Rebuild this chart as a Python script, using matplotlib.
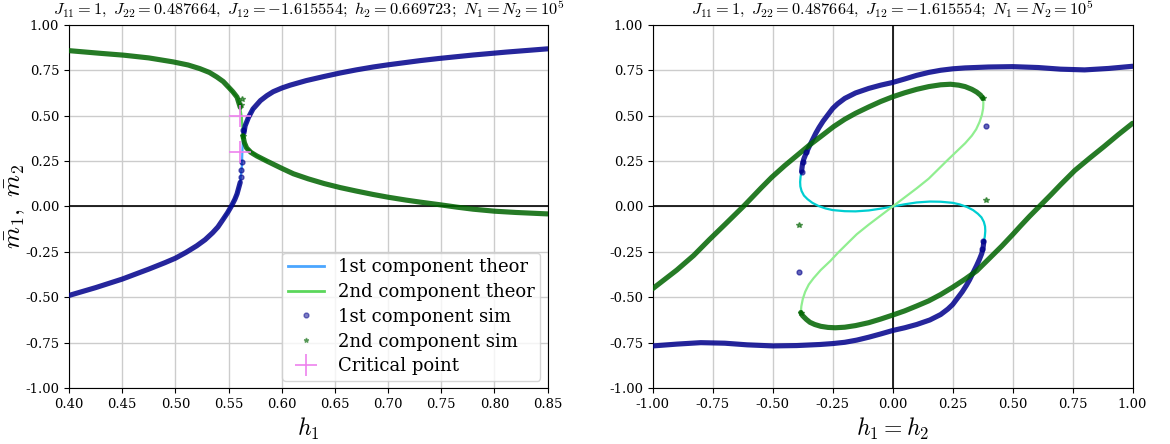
import matplotlib
matplotlib.use("Agg")
import matplotlib.pyplot as plt
from matplotlib.lines import Line2D
from matplotlib.ticker import FormatStrFormatter

plt.rcParams["font.family"] = "DejaVu Serif"
plt.rcParams["mathtext.fontset"] = "cm"

TITLE_L = r"$J_{11}=1,\ J_{22}=0.487664,\ J_{12}=-1.615554;\ h_2=0.669723;\ N_1=N_2=10^5$"
TITLE_R = r"$J_{11}=1,\ J_{22}=0.487664,\ J_{12}=-1.615554;\ N_1=N_2=10^5$"

# ---- left panel: sweep in h1 ----
h_sim1_lo = [0.40, 0.425, 0.45, 0.475, 0.49, 0.50, 0.51, 0.52, 0.528, 0.535, 0.54, 0.545, 0.549, 0.553,
             0.556, 0.558, 0.561]
m_sim1_lo = [-0.49, -0.447, -0.40, -0.345, -0.31, -0.285, -0.253, -0.217, -0.183, -0.145, -0.113, -0.07,
             -0.035, 0.005, 0.04, 0.069, 0.133]
h_sim1_hi = [0.5645, 0.5656, 0.5688, 0.573, 0.58, 0.586, 0.592, 0.60, 0.608, 0.623, 0.64, 0.655, 0.67,
             0.686, 0.70, 0.717, 0.73, 0.748, 0.78, 0.811, 0.85]
m_sim1_hi = [0.405, 0.444, 0.491, 0.537, 0.583, 0.61, 0.632, 0.652, 0.668, 0.693, 0.716, 0.735, 0.752,
             0.768, 0.78, 0.793, 0.803, 0.815, 0.834, 0.85, 0.868]
h_sim2_hi = [0.40, 0.43, 0.4516, 0.475, 0.498, 0.512, 0.523, 0.532, 0.539, 0.545, 0.55, 0.554, 0.558, 0.561]
m_sim2_hi = [0.858, 0.843, 0.833, 0.818, 0.796, 0.779, 0.759, 0.738, 0.713, 0.688, 0.657, 0.632, 0.602, 0.546]
h_sim2_lo = [0.5635, 0.565, 0.567, 0.571, 0.5766, 0.586, 0.60, 0.611, 0.625, 0.64, 0.655, 0.67, 0.686,
             0.70, 0.717, 0.73, 0.748, 0.765, 0.78, 0.80, 0.82, 0.85]
m_sim2_lo = [0.39, 0.35, 0.322, 0.298, 0.278, 0.25, 0.21, 0.18, 0.152, 0.126, 0.104, 0.085, 0.066,
             0.051, 0.035, 0.024, 0.01, -0.004, -0.015, -0.026, -0.033, -0.041]
h_sim1_pts = [0.5615, 0.562, 0.5625, 0.5635]
m_sim1_pts = [0.16, 0.20, 0.245, 0.42]
h_sim2_pts = [0.5615, 0.5625, 0.564]
m_sim2_pts = [0.56, 0.59, 0.39]

h_th1 = [0.545, 0.553, 0.558, 0.561, 0.5625, 0.563, 0.5635, 0.5645, 0.5656, 0.5688, 0.573]
m_th1 = [-0.07, 0.005, 0.069, 0.133, 0.22, 0.30, 0.36, 0.40, 0.444, 0.491, 0.537]
h_th2 = [0.55, 0.558, 0.561, 0.5625, 0.563, 0.5635, 0.564, 0.567, 0.5766, 0.586]
m_th2 = [0.657, 0.602, 0.546, 0.49, 0.44, 0.40, 0.37, 0.322, 0.278, 0.25]

h_crit = [0.561, 0.561]
m_crit = [0.50, 0.30]

# ---- right panel: sweep in h1 = h2 ----
x_sim1_hi = [-0.380, -0.376, -0.371, -0.362, -0.35, -0.335, -0.32, -0.307, -0.29, -0.27, -0.25, -0.23,
             -0.2, -0.155, -0.1, -0.05, 0.0, 0.05, 0.1, 0.15, 0.2, 0.25, 0.302, 0.40, 0.50, 0.607,
             0.70, 0.80, 0.90, 1.0]
y_sim1_hi = [0.193, 0.235, 0.26, 0.29, 0.325, 0.365, 0.405, 0.435, 0.47, 0.505, 0.54, 0.565,
             0.595, 0.625, 0.65, 0.668, 0.683, 0.702, 0.722, 0.738, 0.75, 0.758, 0.763, 0.768, 0.77, 0.765,
             0.756, 0.752, 0.76, 0.772]
x_sim1_lo = [-1.0, -0.9, -0.8, -0.7, -0.607, -0.5, -0.4, -0.302, -0.25, -0.2, -0.15, -0.1, -0.05, 0.0,
             0.05, 0.1, 0.155, 0.2, 0.23, 0.25, 0.27, 0.29, 0.307, 0.32, 0.335, 0.35, 0.362, 0.371,
             0.376, 0.380]
y_sim1_lo = [-0.768, -0.758, -0.75, -0.753, -0.762, -0.768, -0.766, -0.76, -0.755, -0.748, -0.736, -0.72,
             -0.702, -0.683, -0.668, -0.65, -0.625, -0.595, -0.565, -0.54, -0.505, -0.47, -0.435, -0.405,
             -0.365, -0.325, -0.29, -0.26, -0.235, -0.193]
x_sim2_a = [-1.0, -0.9, -0.83, -0.764, -0.70, -0.619, -0.55, -0.505, -0.45, -0.40, -0.35, -0.30, -0.246,
            -0.2, -0.155, -0.1, -0.05, 0.0, 0.05, 0.1, 0.15, 0.2, 0.241, 0.275, 0.302, 0.33, 0.35,
            0.366, 0.376]
y_sim2_a = [-0.452, -0.35, -0.27, -0.182, -0.10, 0.005, 0.10, 0.16, 0.225, 0.28, 0.335, 0.385, 0.44,
            0.48, 0.513, 0.548, 0.578, 0.604, 0.626, 0.645, 0.66, 0.67, 0.673, 0.668, 0.66, 0.645, 0.63,
            0.613, 0.595]
x_sim2_b = [-0.383, -0.376, -0.36, -0.345, -0.325, -0.3, -0.27, -0.24, -0.2, -0.155, -0.1, -0.05, 0.0,
            0.05, 0.1, 0.15, 0.2, 0.25, 0.302, 0.35, 0.40, 0.455, 0.50, 0.531, 0.57, 0.615, 0.66, 0.70,
            0.759, 0.82, 0.881, 0.94, 1.0]
y_sim2_b = [-0.584, -0.601, -0.622, -0.638, -0.65, -0.66, -0.666, -0.668, -0.665, -0.656, -0.64, -0.62,
            -0.598, -0.575, -0.548, -0.52, -0.485, -0.445, -0.40, -0.355, -0.29, -0.218, -0.155, -0.11,
            -0.055, 0.005, 0.065, 0.12, 0.198, 0.265, 0.33, 0.395, 0.458]
x_sim1_pts = [-0.380, -0.373, -0.362, 0.378, 0.371, 0.391, -0.391]
y_sim1_pts = [0.19, 0.245, 0.30, -0.19, -0.236, 0.443, -0.36]
x_sim2_pts = [0.376, -0.383, 0.391, -0.391]
y_sim2_pts = [0.595, -0.584, 0.036, -0.102]

x_th1 = [-0.380, -0.384, -0.386, -0.385, -0.38, -0.37, -0.355, -0.335, -0.31, -0.28, -0.25, -0.2, -0.155,
         -0.1, -0.05, 0.0, 0.05, 0.1, 0.155, 0.2, 0.25, 0.28, 0.31, 0.335, 0.355, 0.37, 0.38, 0.385,
         0.386, 0.384, 0.380]
y_th1 = [0.193, 0.165, 0.135, 0.11, 0.085, 0.06, 0.04, 0.02, 0.003, -0.011, -0.02, -0.026, -0.027,
         -0.022, -0.012, 0.0, 0.012, 0.022, 0.027, 0.026, 0.02, 0.011, -0.003, -0.02, -0.04, -0.06, -0.085,
         -0.11, -0.135, -0.165, -0.193]
x_th2 = [0.376, 0.378, 0.377, 0.372, 0.362, 0.348, 0.33, 0.302, 0.26, 0.226, 0.19, 0.15, 0.1, 0.05, 0.0,
         -0.05, -0.1, -0.15, -0.19, -0.226, -0.26, -0.3, -0.33, -0.35, -0.365, -0.375, -0.381, -0.383]
y_th2 = [0.595, 0.57, 0.54, 0.505, 0.465, 0.425, 0.39, 0.348, 0.295, 0.252, 0.205, 0.153, 0.1, 0.05, 0.0,
         -0.05, -0.1, -0.153, -0.205, -0.252, -0.3, -0.35, -0.395, -0.43, -0.47, -0.51, -0.55, -0.584]

C1_SIM, C2_SIM = "darkblue", "darkgreen"
BAND_LW = 3.7

fig = plt.figure(figsize=(11.7, 4.44), dpi=100)
ax1 = fig.add_axes([0.059, 0.126, 0.409, 0.818])
ax2 = fig.add_axes([0.558, 0.126, 0.410, 0.818])

# left
ax1.plot(h_th1, m_th1, color="dodgerblue", lw=1.6, alpha=0.8, zorder=2)
ax1.plot(h_th2, m_th2, color="limegreen", lw=1.6, alpha=0.8, zorder=2)
for hx, my, c in [(h_sim1_lo, m_sim1_lo, C1_SIM), (h_sim1_hi, m_sim1_hi, C1_SIM),
                  (h_sim2_hi, m_sim2_hi, C2_SIM), (h_sim2_lo, m_sim2_lo, C2_SIM)]:
    ax1.plot(hx, my, color=c, lw=BAND_LW, alpha=0.85, solid_capstyle="round",
             solid_joinstyle="round", zorder=3)
ax1.plot(h_sim1_pts, m_sim1_pts, "o", color=C1_SIM, ms=3.5, alpha=0.6, zorder=4)
ax1.plot(h_sim2_pts, m_sim2_pts, "*", color=C2_SIM, ms=4, alpha=0.6, zorder=4)
ax1.plot(h_crit, m_crit, "+", color="violet", ms=16, mew=1.2, zorder=5)
ax1.axhline(0, color="black", lw=1.2, zorder=1)
ax1.set_xlim(0.40, 0.85)
ax1.set_ylim(-1.0, 1.0)
ax1.set_xticks([0.40, 0.45, 0.50, 0.55, 0.60, 0.65, 0.70, 0.75, 0.80, 0.85])
ax1.set_xlabel(r"$h_1$", fontsize=17)
ax1.set_ylabel(r"$\bar{m}_1,\ \bar{m}_2$", fontsize=18)
ax1.yaxis.set_label_coords(-0.088, 0.5)
ax1.set_title(TITLE_L, fontsize=11.8, pad=7)

handles = [
    Line2D([], [], color="dodgerblue", lw=2, alpha=0.8),
    Line2D([], [], color="limegreen", lw=2, alpha=0.8),
    Line2D([], [], color=C1_SIM, marker="o", ls="", ms=3.5, alpha=0.5),
    Line2D([], [], color=C2_SIM, marker="*", ls="", ms=3.5, alpha=0.5),
    Line2D([], [], color="violet", marker="+", ls="", ms=16, mew=1.2),
]
labels = ["1st component theor", "2nd component theor", "1st component sim",
          "2nd component sim", "Critical point"]
ax1.legend(handles, labels, loc="lower right", fontsize=13, labelspacing=0.38,
           handlelength=2.0, borderpad=0.3, borderaxespad=0.4)

# right
ax2.plot(x_th1, y_th1, color="darkturquoise", lw=1.6, zorder=2)
ax2.plot(x_th2, y_th2, color="lightgreen", lw=1.6, zorder=2)
for xx, yy, c in [(x_sim1_hi, y_sim1_hi, C1_SIM), (x_sim1_lo, y_sim1_lo, C1_SIM),
                  (x_sim2_a, y_sim2_a, C2_SIM), (x_sim2_b, y_sim2_b, C2_SIM)]:
    ax2.plot(xx, yy, color=c, lw=BAND_LW, alpha=0.85, solid_capstyle="round",
             solid_joinstyle="round", zorder=3)
ax2.plot(x_sim1_pts, y_sim1_pts, "o", color=C1_SIM, ms=3.5, alpha=0.6, zorder=4)
ax2.plot(x_sim2_pts, y_sim2_pts, "*", color=C2_SIM, ms=4, alpha=0.6, zorder=4)
ax2.axhline(0, color="black", lw=1.2, zorder=1)
ax2.axvline(0, color="black", lw=1.2, zorder=1)
ax2.set_xlim(-1.0, 1.0)
ax2.set_ylim(-1.0, 1.0)
ax2.set_xlabel(r"$h_1=h_2$", fontsize=17)
ax2.set_title(TITLE_R, fontsize=11.8, pad=7)

for ax in (ax1, ax2):
    ax.set_yticks([-1.0, -0.75, -0.5, -0.25, 0.0, 0.25, 0.5, 0.75, 1.0])
    ax.xaxis.set_major_formatter(FormatStrFormatter("%.2f"))
    ax.yaxis.set_major_formatter(FormatStrFormatter("%.2f"))
    ax.tick_params(labelsize=9.5)
    ax.grid(True, color="#cccccc", lw=1.0, zorder=0)
    ax.set_axisbelow(True)

plt.savefig("out.png", dpi=100)
plt.close(fig)
